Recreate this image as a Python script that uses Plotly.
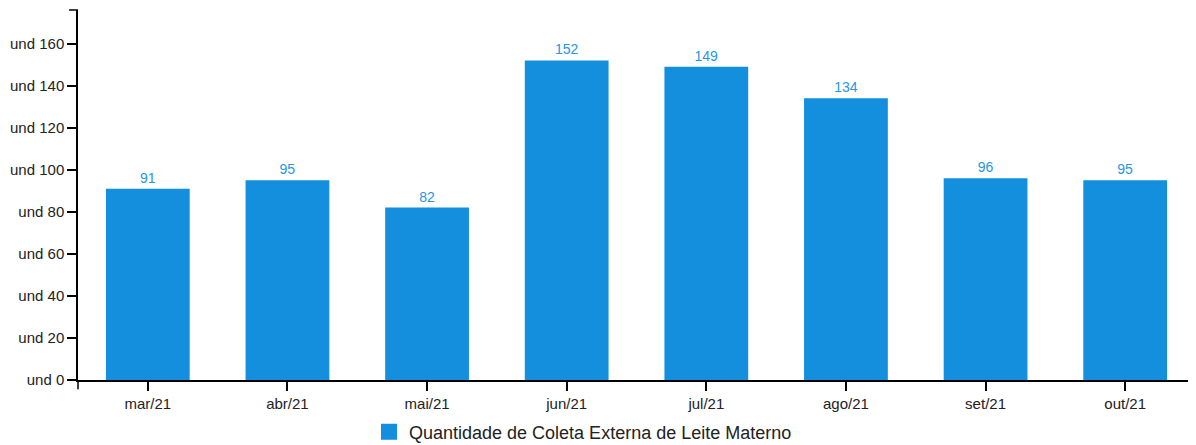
import plotly.graph_objects as go

categories = ["mar/21", "abr/21", "mai/21", "jun/21", "jul/21", "ago/21", "set/21", "out/21"]
values = [91, 95, 82, 152, 149, 134, 96, 95]
y_ticks = [0, 20, 40, 60, 80, 100, 120, 140, 160]
y_tick_labels = [f"und {v}" for v in y_ticks]
series_name = "Quantidade de Coleta Externa de Leite Materno"

BAR = "#138fdd"
LABEL = "#2796e2"
FONT = "Liberation Sans, Arial, sans-serif"

fig = go.Figure()
fig.add_trace(go.Bar(
    x=categories, y=values, width=0.6,
    marker=dict(color=BAR, line=dict(width=0)),
    text=[str(v) for v in values], textposition="outside",
    textfont=dict(color=LABEL, size=14, family=FONT),
    cliponaxis=False, showlegend=False, name=series_name,
))
fig.add_trace(go.Scatter(
    x=[None], y=[None], mode="markers", name=series_name,
    marker=dict(symbol="square", size=16, color=BAR),
))

fig.update_layout(
    width=1188, height=437,
    margin=dict(l=70, r=1, t=2, b=65, autoexpand=False),
    paper_bgcolor="white", plot_bgcolor="white",
    font=dict(family=FONT, color="#222", size=15),
    bargap=0.4,
    showlegend=True,
    legend=dict(orientation="h", xref="container", yref="paper",
                x=0.484, xanchor="center", y=-0.1405, yanchor="middle",
                font=dict(size=18, color="#222"), itemsizing="trace",
                bgcolor="rgba(0,0,0,0)"),
    xaxis=dict(showline=True, linecolor="black", linewidth=1.5, ticks="outside",
               ticklen=9, tickwidth=1.5, tickcolor="black", showgrid=False,
               automargin=False,
               tickfont=dict(size=15, color="#222"), range=[-0.5, 7.5], fixedrange=True),
    yaxis=dict(showline=True, linecolor="black", linewidth=1.5, ticks="outside",
               ticklen=9, tickwidth=1.5, tickcolor="black", showgrid=False, zeroline=False,
               automargin=False,
               tickvals=y_ticks, ticktext=y_tick_labels, range=[0, 176],
               tickfont=dict(size=15, color="#222")),
    shapes=[
        dict(type="line", xref="paper", yref="paper", x0=0, x1=0, y0=0, y1=-0.025,
             line=dict(color="black", width=1.5)),
        dict(type="line", xref="paper", yref="paper", x0=1, x1=1, y0=0, y1=-0.025,
             line=dict(color="black", width=1.5)),
        dict(type="line", xref="paper", yref="paper", x0=0, x1=-0.008, y0=1, y1=1,
             line=dict(color="black", width=1.5)),
    ],
)

fig.write_html("out.html")
